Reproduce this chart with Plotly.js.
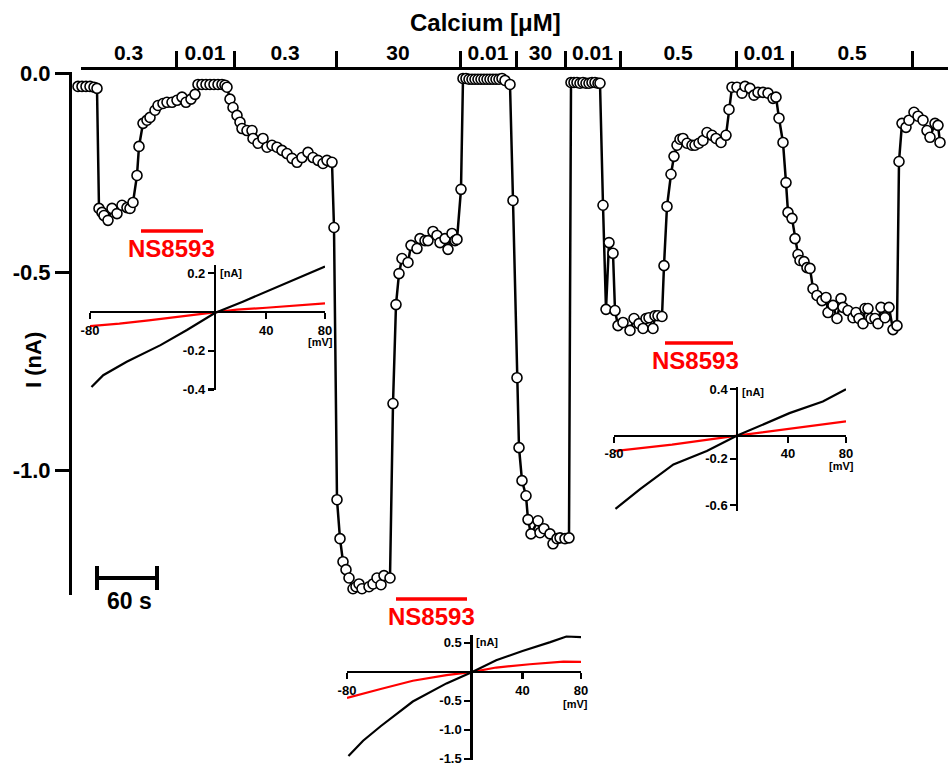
<!DOCTYPE html>
<html><head><meta charset="utf-8">
<script src="https://cdn.plot.ly/plotly-3.0.1.min.js"></script>
<style>html,body{margin:0;padding:0;background:#fff}#chart{width:948px;height:768px}</style>
</head><body><div id="chart"></div>
<script>
// ================= DATA =================
// Time course: time (s) and whole-cell current (nA)
const timeS = [-2,2,6,10,14,17,19,22,24,28,32,37,42,47,50,53,57,59,63,67,70,75,78,83,87,92,97,102,106,111,115,118,122,126,130,134,138,142,145,147,150,153,157,160,162,167,172,173,178,183,187,192,197,202,207,212,217,222,228,233,238,243,247,252,254,257,260,263,266,269,273,276,279,282,289,293,297,301,304,310,313,316,319,322,328,331,337,340,345,348,353,357,360,365,368,372,375,377,381,383,386,389,392,395,398,401,404,407,410,413,416,419,422,425,430,433,437,439,442,446,448,451,458,460,464,470,473,477,480,485,489,491,494,497,500,503,506,509,512,515,518,520,523,526,529,533,535,538,543,550,554,559,563,566,569,573,575,578,582,584,587,591,594,597,600,603,607,612,615,619,623,627,632,636,641,646,649,652,657,662,665,670,674,678,683,688,693,696,699,703,706,708,712,715,718,720,724,727,730,733,737,742,746,748,753,757,761,763,768,773,776,779,783,785,788,791,795,798,801,805,809,813,817,819,822,826,829,834,838,843,847,850,855,858,860];
const currentNA = [-0.033,-0.033,-0.033,-0.033,-0.035,-0.038,-0.340,-0.350,-0.358,-0.370,-0.340,-0.353,-0.332,-0.338,-0.340,-0.325,-0.257,-0.184,-0.126,-0.118,-0.111,-0.093,-0.081,-0.076,-0.073,-0.073,-0.068,-0.060,-0.073,-0.065,-0.053,-0.028,-0.028,-0.028,-0.028,-0.028,-0.028,-0.028,-0.030,-0.035,-0.065,-0.086,-0.106,-0.123,-0.139,-0.144,-0.144,-0.164,-0.176,-0.164,-0.186,-0.181,-0.186,-0.194,-0.202,-0.214,-0.224,-0.212,-0.199,-0.212,-0.219,-0.227,-0.219,-0.224,-0.388,-1.073,-1.171,-1.229,-1.249,-1.270,-1.297,-1.292,-1.285,-1.297,-1.292,-1.285,-1.270,-1.287,-1.264,-1.270,-0.831,-0.582,-0.504,-0.466,-0.476,-0.433,-0.441,-0.416,-0.421,-0.421,-0.398,-0.408,-0.426,-0.416,-0.443,-0.403,-0.421,-0.418,-0.292,-0.013,-0.013,-0.015,-0.015,-0.015,-0.015,-0.015,-0.015,-0.015,-0.015,-0.015,-0.015,-0.015,-0.013,-0.018,-0.028,-0.320,-0.766,-0.942,-1.025,-1.063,-1.123,-1.159,-1.126,-1.156,-1.146,-1.159,-1.184,-1.171,-1.169,-1.171,-1.169,-0.023,-0.023,-0.023,-0.025,-0.023,-0.025,-0.025,-0.023,-0.023,-0.025,-0.025,-0.332,-0.594,-0.426,-0.453,-0.597,-0.635,-0.627,-0.647,-0.617,-0.630,-0.642,-0.617,-0.615,-0.642,-0.610,-0.610,-0.612,-0.484,-0.335,-0.254,-0.209,-0.181,-0.166,-0.164,-0.176,-0.181,-0.181,-0.176,-0.169,-0.149,-0.156,-0.164,-0.174,-0.156,-0.091,-0.035,-0.035,-0.050,-0.033,-0.038,-0.055,-0.048,-0.048,-0.050,-0.063,-0.060,-0.113,-0.174,-0.275,-0.350,-0.365,-0.416,-0.456,-0.471,-0.474,-0.489,-0.491,-0.542,-0.559,-0.572,-0.564,-0.602,-0.584,-0.617,-0.567,-0.589,-0.597,-0.615,-0.602,-0.617,-0.630,-0.592,-0.592,-0.617,-0.617,-0.630,-0.589,-0.615,-0.589,-0.645,-0.635,-0.222,-0.126,-0.136,-0.118,-0.098,-0.108,-0.118,-0.144,-0.161,-0.126,-0.131,-0.174];

// Calcium application periods (segment boundaries in s) and concentrations (µM)
const calciumBoundsS = [1, 96, 154, 256, 380, 436, 485, 540, 656, 712, 832];
const calciumLabels = ["0.3","0.01","0.3","30","0.01","30","0.01","0.5","0.01","0.5"];

const mainYTicks = [0, -0.5, -1.0];
const mainYTickText = ["0.0", "-0.5", "-1.0"];
const scaleBarS = 60;

// I-V insets: voltage (mV) / current (nA), control (black) and NS8593 (red)
const iv1CtrlV = [-79,-71,-55,-32,-14,5,24,40,58,80];
const iv1CtrlI = [-0.387,-0.326,-0.257,-0.171,-0.093,-0.005,0.053,0.105,0.166,0.235];
const iv1NsV = [-80,-60,-40,-20,5,20,40,60,80];
const iv1NsI = [-0.073,-0.060,-0.043,-0.025,0,0.012,0.022,0.035,0.045];
const iv1YTicks = [0.2, -0.2, -0.4];
const iv1YTickText = ["0.2", "-0.2", "-0.4"];

const iv2CtrlV = [-79,-69,-57,-35,-12,6,22,40,59,70,80];
const iv2CtrlI = [-1.453,-1.190,-0.940,-0.513,-0.200,0,0.200,0.360,0.513,0.610,0.600];
const iv2NsV = [-80,-69,-57,-35,-12,6,22,45,68,80];
const iv2NsI = [-0.450,-0.382,-0.296,-0.154,-0.057,0,0.074,0.131,0.177,0.171];
const iv2YTicks = [0.5, -0.5, -1.0, -1.5];
const iv2YTickText = ["0.5", "-0.5", "-1.0", "-1.5"];

const iv3CtrlV = [-79,-62,-39,-16,5,25,41,64,80];
const iv3CtrlI = [-0.634,-0.463,-0.249,-0.134,0,0.109,0.194,0.294,0.400];
const iv3NsV = [-80,-40,5,40,80];
const iv3NsI = [-0.134,-0.078,0,0.060,0.123];
const iv3YTicks = [0.4, -0.2, -0.6];
const iv3YTickText = ["0.4", "-0.2", "-0.6"];

const ivXTicks = [-80, 40, 80];
const ivXTickText = ["-80", "40", "80"];

// ================= LAYOUT HELPERS =================
const W = 948, H = 768;
const fx = p => p / W;
const fy = p => 1 - p / H;
const FONT = "Liberation Sans, Arial, Helvetica, sans-serif";
const RED = "#ff0000";

const traces = [];
const layout = {
  width: W, height: H,
  margin: {l: 0, r: 0, t: 0, b: 0},
  paper_bgcolor: "#ffffff", plot_bgcolor: "rgba(0,0,0,0)",
  showlegend: false,
  font: {family: FONT, color: "#000", weight: "bold"},
  annotations: [], shapes: []
};

// Main time course
const zeroPx = 73.3, pxPerNA = 397.4, yTopPx = 72, yBotPx = 595;
layout.xaxis = {domain: [fx(72), 1], range: [-8, 868], visible: false, fixedrange: true};
layout.yaxis = {
  domain: [fy(yBotPx), fy(yTopPx)],
  range: [-(yBotPx - zeroPx) / pxPerNA, (zeroPx - yTopPx) / pxPerNA],
  showline: true, linewidth: 3, linecolor: "#000", mirror: false,
  ticks: "outside", ticklen: 14, tickwidth: 3, tickcolor: "#000",
  tickvals: mainYTicks, ticktext: mainYTickText, ticklabeloverflow: "allow",
  tickfont: {size: 22, family: FONT, weight: "bold", color: "#000"},
  showgrid: false, zeroline: false, fixedrange: true
};
traces.push({
  x: timeS, y: currentNA, xaxis: "x", yaxis: "y",
  mode: "lines+markers", cliponaxis: false,
  line: {color: "#000", width: 2.5},
  marker: {symbol: "circle", size: 10, color: "#fff", line: {color: "#000", width: 1.6}},
  hoverinfo: "skip"
});

// Calcium axis on top
layout.xaxis2 = {
  domain: [fx(81), 1], range: [1, 868], anchor: "y2", side: "bottom",
  showline: true, linewidth: 3, linecolor: "#000",
  ticks: "inside", ticklen: 16, tickwidth: 3, tickcolor: "#000",
  tickvals: calciumBoundsS, showticklabels: false,
  showgrid: false, zeroline: false, fixedrange: true
};
layout.yaxis2 = {domain: [fy(67), fy(40)], range: [0, 1], visible: false, fixedrange: true};
const labelMid = calciumLabels.map((_, i) => (calciumBoundsS[i] + calciumBoundsS[i + 1]) / 2);
traces.push({
  x: labelMid, y: calciumLabels.map(() => 0.46), text: calciumLabels,
  xaxis: "x2", yaxis: "y2", mode: "text", cliponaxis: false,
  textfont: {size: 21, family: FONT, weight: "bold", color: "#000"},
  hoverinfo: "skip"
});
layout.annotations.push({
  text: "Calcium [μM]", xref: "paper", yref: "paper", x: fx(485), y: fy(23),
  showarrow: false, xanchor: "center", yanchor: "middle",
  font: {size: 24, family: FONT, weight: "bold", color: "#000"}
});
layout.annotations.push({
  text: "I (nA)", xref: "paper", yref: "paper", x: fx(33), y: fy(360), textangle: -90,
  showarrow: false, xanchor: "center", yanchor: "middle",
  font: {size: 22, family: FONT, weight: "bold", color: "#000"}
});

// Scale bar
const sb0 = 17;
layout.shapes.push({type: "line", xref: "x", yref: "paper", x0: sb0, x1: sb0 + scaleBarS, y0: fy(578), y1: fy(578), line: {color: "#000", width: 4}});
layout.shapes.push({type: "line", xref: "x", yref: "paper", x0: sb0, x1: sb0, y0: fy(566), y1: fy(590), line: {color: "#000", width: 4}});
layout.shapes.push({type: "line", xref: "x", yref: "paper", x0: sb0 + scaleBarS, x1: sb0 + scaleBarS, y0: fy(566), y1: fy(590), line: {color: "#000", width: 4}});
layout.annotations.push({
  text: scaleBarS + " s", xref: "x", yref: "paper", x: sb0 + scaleBarS / 2 + 2, y: fy(601),
  showarrow: false, xanchor: "center", yanchor: "middle",
  font: {size: 23, family: FONT, weight: "bold", color: "#000"}
});

// Insets
const crossV = 5;
function addInset(n, xPx, yPx, yRange, yTicks, yTickText, ctrlV, ctrlI, nsV, nsI, nA, mV, label, bar) {
  const [l, r] = xPx, [top, bot] = yPx, [lo, hi] = yRange;
  const zeroPy = top + hi / (hi - lo) * (bot - top);
  const crossPx = l + (crossV + 80) / 160 * (r - l);
  const tickFont = {size: 13, family: FONT, weight: "bold", color: "#000"};
  layout["xaxis" + n] = {
    domain: [fx(l), fx(r)], range: [-80, 80], anchor: "free", position: fy(zeroPy),
    showline: true, linewidth: 2.2, linecolor: "#000",
    ticks: "outside", ticklen: 6, tickwidth: 2.2, tickcolor: "#000",
    tickvals: ivXTicks, ticktext: ivXTickText, tickfont: tickFont, ticklabeloverflow: "allow",
    showgrid: false, zeroline: false, fixedrange: true
  };
  layout["yaxis" + n] = {
    domain: [fy(bot), fy(top)], range: [lo, hi], anchor: "free", position: fx(crossPx),
    showline: true, linewidth: 2.2, linecolor: "#000",
    ticks: "outside", ticklen: 6, tickwidth: 2.2, tickcolor: "#000",
    tickvals: yTicks, ticktext: yTickText, tickfont: tickFont, ticklabeloverflow: "allow",
    showgrid: false, zeroline: false, fixedrange: true
  };
  traces.push({x: nsV, y: nsI, xaxis: "x" + n, yaxis: "y" + n, mode: "lines",
    line: {color: RED, width: 2.2}, hoverinfo: "skip"});
  traces.push({x: ctrlV, y: ctrlI, xaxis: "x" + n, yaxis: "y" + n, mode: "lines",
    line: {color: "#000", width: 2.2}, hoverinfo: "skip"});
  layout.annotations.push({text: "[nA]", xref: "paper", yref: "paper", x: fx(crossPx + 3), y: fy(nA),
    showarrow: false, xanchor: "left", yanchor: "middle",
    font: {size: 11, family: FONT, weight: "bold", color: "#000"}});
  layout.annotations.push({text: "[mV]", xref: "paper", yref: "paper", x: fx(mV[0]), y: fy(mV[1]),
    showarrow: false, xanchor: "center", yanchor: "middle",
    font: {size: 11, family: FONT, weight: "bold", color: "#000"}});
  layout.annotations.push({text: "NS8593", xref: "paper", yref: "paper", x: fx(label[0]), y: fy(label[1]),
    showarrow: false, xanchor: "center", yanchor: "middle",
    font: {size: 24, family: FONT, weight: "bold", color: RED}});
  layout.shapes.push({type: "line", xref: "paper", yref: "paper", x0: fx(bar[0]), x1: fx(bar[1]),
    y0: fy(bar[2]), y1: fy(bar[2]), line: {color: RED, width: 3.5}});
}
addInset(3, [90, 325], [265, 390], [-0.4025, 0.2425], iv1YTicks, iv1YTickText,
  iv1CtrlV, iv1CtrlI, iv1NsV, iv1NsI, 273, [320, 342], [171, 248], [141, 203, 231]);
addInset(4, [347, 581], [635, 760], [-1.523, 0.636], iv2YTicks, iv2YTickText,
  iv2CtrlV, iv2CtrlI, iv2NsV, iv2NsI, 642, [575, 704], [431, 616], [396, 467, 599]);
addInset(5, [614, 846], [387, 511], [-0.652, 0.42], iv3YTicks, iv3YTickText,
  iv3CtrlV, iv3CtrlI, iv3NsV, iv3NsI, 392, [841, 466], [695, 361], [665, 733, 343]);

Plotly.newPlot("chart", traces, layout, {staticPlot: true, displayModeBar: false});
</script>
</body></html>
